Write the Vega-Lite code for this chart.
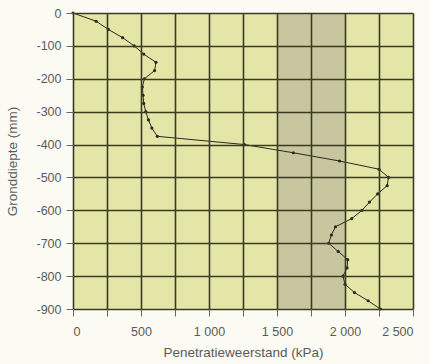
{
  "$schema": "https://vega.github.io/schema/vega-lite/v6.json",
  "width": 340,
  "height": 296,
  "autosize": {"type": "none"},
  "padding": {"left": 73, "top": 13, "right": 17, "bottom": 55},
  "background": "#fbfbf4",
  "config": {
    "view": {"fill": "#e4e6a8", "stroke": null},
    "axis": {
      "domain": false,
      "gridColor": "#3a3c22",
      "gridWidth": 1.6,
      "gridOpacity": 1,
      "tickColor": "#666",
      "tickSize": 7,
      "tickWidth": 1,
      "labelFont": "Liberation Sans",
      "labelFontSize": 12.5,
      "labelColor": "#5a5a5a",
      "titleFont": "Liberation Sans",
      "titleFontSize": 13.5,
      "titleFontWeight": "normal",
      "titleColor": "#5a5a5a"
    }
  },
  "datasets": {
    "profile": [
      {"depth": 0, "kpa": 0},
      {"depth": -25, "kpa": 170},
      {"depth": -50, "kpa": 260},
      {"depth": -75, "kpa": 365},
      {"depth": -100, "kpa": 450},
      {"depth": -125, "kpa": 520},
      {"depth": -150, "kpa": 610},
      {"depth": -175, "kpa": 600},
      {"depth": -200, "kpa": 525},
      {"depth": -225, "kpa": 510},
      {"depth": -250, "kpa": 515},
      {"depth": -275, "kpa": 520},
      {"depth": -300, "kpa": 535},
      {"depth": -325, "kpa": 555},
      {"depth": -350, "kpa": 580},
      {"depth": -375, "kpa": 620},
      {"depth": -400, "kpa": 1260},
      {"depth": -425, "kpa": 1620},
      {"depth": -450, "kpa": 1960},
      {"depth": -475, "kpa": 2250},
      {"depth": -500, "kpa": 2320},
      {"depth": -525, "kpa": 2310},
      {"depth": -550, "kpa": 2240},
      {"depth": -575, "kpa": 2180},
      {"depth": -600, "kpa": 2125},
      {"depth": -625, "kpa": 2050},
      {"depth": -650, "kpa": 1930},
      {"depth": -675, "kpa": 1900},
      {"depth": -700, "kpa": 1880},
      {"depth": -725, "kpa": 1950},
      {"depth": -750, "kpa": 2020},
      {"depth": -775, "kpa": 2015},
      {"depth": -800, "kpa": 1985},
      {"depth": -825, "kpa": 2000},
      {"depth": -850, "kpa": 2070},
      {"depth": -875, "kpa": 2170},
      {"depth": -900, "kpa": 2260}
    ],
    "band": [{"from": 1500, "to": 2000}]
  },
  "layer": [
    {
      "data": {"name": "band"},
      "mark": {"type": "rect", "color": "#c8c69e"},
      "encoding": {
        "x": {
          "field": "from", "type": "quantitative",
          "scale": {"domain": [0, 2500], "nice": false},
          "axis": {
            "title": "Penetratieweerstand (kPa)",
            "zindex": 1,
            "values": [0, 250, 500, 750, 1000, 1250, 1500, 1750, 2000, 2250, 2500],
            "labelExpr": "datum.value % 500 == 0 ? replace(format(datum.value, ','), ',', ' ') : ''",
            "labelPadding": 9,
            "titlePadding": 8
          }
        },
        "x2": {"field": "to"}
      }
    },
    {
      "data": {"name": "profile"},
      "mark": {"type": "line", "color": "#2b2b1c", "strokeWidth": 1, "point": {"filled": true, "size": 10, "color": "#2b2b1c"}},
      "encoding": {
        "x": {
          "field": "kpa", "type": "quantitative",
          "scale": {"domain": [0, 2500], "nice": false},
          "axis": {
            "title": "Penetratieweerstand (kPa)",
            "zindex": 1,
            "values": [0, 250, 500, 750, 1000, 1250, 1500, 1750, 2000, 2250, 2500],
            "labelExpr": "datum.value % 500 == 0 ? replace(format(datum.value, ','), ',', ' ') : ''",
            "labelPadding": 9,
            "titlePadding": 8
          }
        },
        "y": {
          "field": "depth", "type": "quantitative",
          "scale": {"domain": [-900, 0], "nice": false},
          "axis": {
            "title": "Gronddiepte (mm)",
            "zindex": 1,
            "values": [0, -100, -200, -300, -400, -500, -600, -700, -800, -900],
            "labelExpr": "datum.value == 0 ? '0' : '-' + abs(datum.value)",
            "labelPadding": 5,
            "titlePadding": 16
          }
        },
        "order": {"field": "depth", "sort": "descending"}
      }
    }
  ]
}
